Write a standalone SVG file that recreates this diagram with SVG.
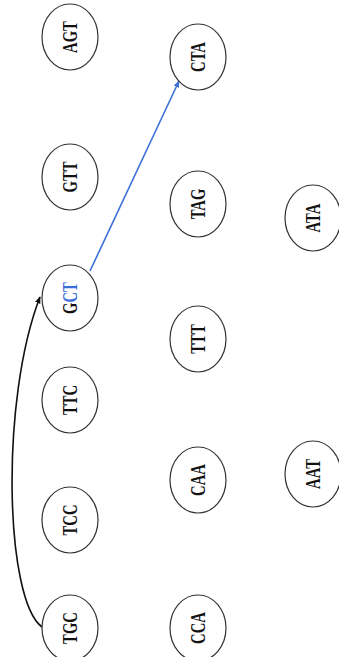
<svg xmlns="http://www.w3.org/2000/svg" width="339" height="657" viewBox="0 0 339 657">
<style>
.n ellipse{fill:#fff;stroke:#333;stroke-width:1.2}
.n text{font-family:"Liberation Serif","Times New Roman",serif;font-weight:bold;font-size:21px;fill:#111;text-anchor:middle;dominant-baseline:central}
.b{fill:#3a6fd8}
</style>
<defs>
<marker id="ak" viewBox="0 0 10 10" refX="9" refY="5" markerWidth="7" markerHeight="7" orient="auto" markerUnits="userSpaceOnUse"><path d="M0,1 L10,5 L0,9 Z" fill="#111"/></marker>
<marker id="ab" viewBox="0 0 10 10" refX="9" refY="5" markerWidth="7" markerHeight="7" orient="auto" markerUnits="userSpaceOnUse"><path d="M0,1 L10,5 L0,9 Z" fill="#3a6fd8"/></marker>
</defs>
<rect width="339" height="657" fill="#fff"/>
<g id="connectors">
<path d="M42,627 C5,600 0,400 40,297" fill="none" stroke="#111" stroke-width="1.6" marker-end="url(#ak)"/>
<path d="M90,271 L179,81" fill="none" stroke="#3a6fd8" stroke-width="1.6" marker-end="url(#ab)"/>
</g>
<g id="AGT" class="n"><ellipse cx="70" cy="37" rx="28" ry="33"/><text transform="translate(70,37) rotate(-90) scale(0.7,1)">AGT</text></g>
<g id="GTT" class="n"><ellipse cx="70" cy="177" rx="28" ry="33"/><text transform="translate(70,177) rotate(-90) scale(0.7,1)">GTT</text></g>
<g id="GCT" class="n"><ellipse cx="70" cy="298" rx="28" ry="33"/><text transform="translate(70,298) rotate(-90) scale(0.7,1)">G<tspan class="b">CT</tspan></text></g>
<g id="TTC" class="n"><ellipse cx="70" cy="400" rx="28" ry="33"/><text transform="translate(70,400) rotate(-90) scale(0.7,1)">TTC</text></g>
<g id="TCC" class="n"><ellipse cx="70" cy="520" rx="28" ry="33"/><text transform="translate(70,520) rotate(-90) scale(0.7,1)">TCC</text></g>
<g id="TGC" class="n"><ellipse cx="70" cy="628" rx="28" ry="33"/><text transform="translate(70,628) rotate(-90) scale(0.7,1)">TGC</text></g>
<g id="CTA" class="n"><ellipse cx="198" cy="57" rx="28" ry="33"/><text class="b" transform="translate(198,57) rotate(-90) scale(0.7,1)">CTA</text></g>
<g id="TAG" class="n"><ellipse cx="198" cy="204" rx="28" ry="33"/><text transform="translate(198,204) rotate(-90) scale(0.7,1)">TAG</text></g>
<g id="TTT" class="n"><ellipse cx="198" cy="339" rx="28" ry="33"/><text transform="translate(198,339) rotate(-90) scale(0.7,1)">TTT</text></g>
<g id="CAA" class="n"><ellipse cx="198" cy="480" rx="28" ry="33"/><text transform="translate(198,480) rotate(-90) scale(0.7,1)">CAA</text></g>
<g id="CCA" class="n"><ellipse cx="198" cy="628" rx="28" ry="33"/><text transform="translate(198,628) rotate(-90) scale(0.7,1)">CCA</text></g>
<g id="ATA" class="n"><ellipse cx="313" cy="218" rx="28" ry="33"/><text transform="translate(313,218) rotate(-90) scale(0.7,1)">ATA</text></g>
<g id="AAT" class="n"><ellipse cx="313" cy="474" rx="28" ry="33"/><text transform="translate(313,474) rotate(-90) scale(0.7,1)">AAT</text></g>
</svg>
